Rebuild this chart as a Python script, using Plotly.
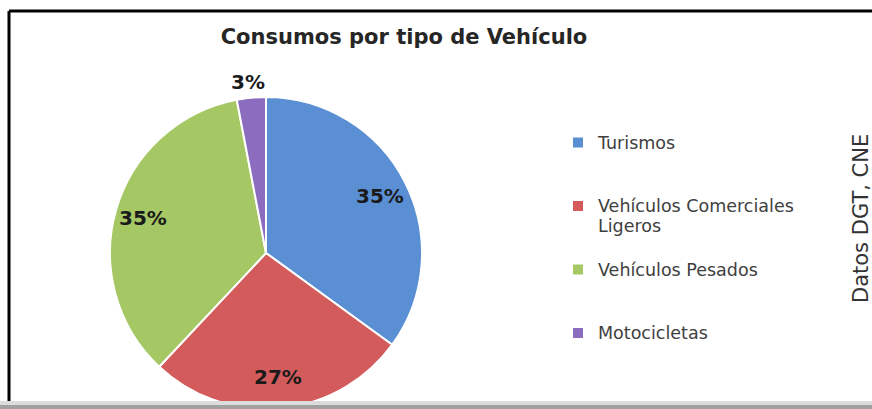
import math
import plotly.graph_objects as go

categories = ["Turismos", "Vehículos Comerciales<br>Ligeros", "Vehículos Pesados", "Motocicletas"]
values = [35, 27, 35, 3]
colors = ["#5B8FD4", "#D35B5B", "#A5C864", "#8B6CBF"]
title_text = "Consumos por tipo de Vehículo"
source_text = "Datos DGT, CNE"

W, H = 872, 409
cx, cy, r = 266, 253, 156
FONT = "DejaVu Sans"


def big(s):
    # larger glyphs inside the legend while the legend's base size keeps the wide row spacing
    return "<br>".join(f"<span style='font-size:17.5px'>{part}</span>" for part in s.split("<br>"))


# legend labels padded with blank lines to reproduce the wide legend spacing
legend_labels = [
    big(categories[0]) + "<br> <br> ",
    big(categories[1]) + "<br> ",
    big(categories[2]) + "<br> <br> ",
    big(categories[3]),
]

fig = go.Figure(go.Pie(
    labels=legend_labels,
    values=values,
    sort=False,
    direction="clockwise",
    rotation=0,
    marker=dict(colors=colors, line=dict(color="white", width=2)),
    textinfo="none",
    domain=dict(x=[(cx - r) / W, (cx + r) / W], y=[1 - (cy + r) / H, 1 - (cy - r) / H]),
    hoverinfo="percent",
))

# percentage labels placed Excel-style (further out than plotly's default)
total = sum(values)
cum = 0
for v in values:
    frac = v / total
    mid = (cum + frac / 2) * 2 * math.pi
    cum += frac
    kx, ky = (0.82, 0.8) if frac > 0.1 else (1.2, 1.1)
    px = cx + kx * r * math.sin(mid)
    py = cy - ky * r * math.cos(mid)
    fig.add_annotation(text=f"{round(frac * 100)}%", x=px / W, y=1 - py / H,
                       xref="paper", yref="paper", showarrow=False,
                       xanchor="center", yanchor="middle",
                       font=dict(family=FONT, size=20, color="#1a1a1a", weight="bold"))

fig.update_layout(
    width=W, height=H,
    margin=dict(l=0, r=0, t=0, b=0),
    paper_bgcolor="white",
    title=dict(text=title_text, x=404 / W, xanchor="center", y=1 - 37 / H, yanchor="middle",
               font=dict(family=FONT, size=21, color="#262626", weight="bold")),
    legend=dict(x=558 / W, xanchor="left", y=1 - 126 / H, yanchor="top",
                valign="top", font=dict(family=FONT, size=15.5, color="#404040"),
                itemwidth=30, bgcolor="rgba(0,0,0,0)"),
    showlegend=True,
)

fig.add_annotation(text=source_text, x=861 / W, y=1 - 219 / H, xref="paper", yref="paper",
                   textangle=-90, showarrow=False, xanchor="center", yanchor="middle",
                   font=dict(family=FONT, size=21, color="#333333"))

# frame
fig.add_shape(type="line", xref="paper", yref="paper", x0=9 / W, x1=1.0, y0=1 - 11 / H, y1=1 - 11 / H,
              line=dict(color="black", width=3))
fig.add_shape(type="line", xref="paper", yref="paper", x0=9 / W, x1=9 / W, y0=1 - 11 / H, y1=7 / H,
              line=dict(color="black", width=3))
fig.add_shape(type="rect", xref="paper", yref="paper", x0=0, x1=1, y0=0, y1=4 / H,
              fillcolor="#a0a0a0", line=dict(width=0), layer="above")
fig.add_shape(type="rect", xref="paper", yref="paper", x0=0, x1=1, y0=4 / H, y1=8 / H,
              fillcolor="#dcdcdc", line=dict(width=0), layer="above")

fig.write_html("out.html", config={"displayModeBar": False},
               post_script="document.body.style.margin='0';")
